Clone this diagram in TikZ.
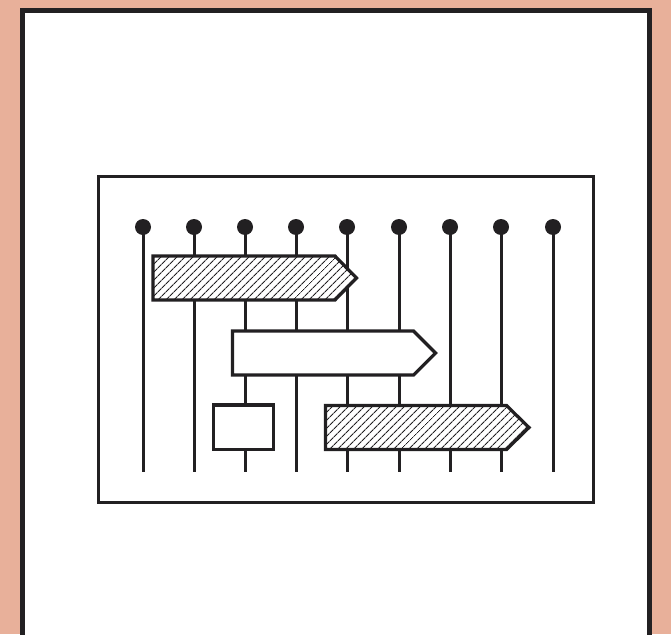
\documentclass[tikz,border=0pt]{standalone}
\usetikzlibrary{patterns.meta}
\definecolor{salmon}{HTML}{E8B09A}
\definecolor{ink}{HTML}{222022}
\tikzset{
  pin/.style={line width=3pt, draw=ink},
  pinhead/.style={circle, fill=ink, inner sep=0pt, minimum size=16pt},
  bar/.style={line width=3.2pt, draw=ink, fill=white, line join=miter},
  hatched/.style={bar, postaction={pattern={Lines[angle=45, distance=5.4pt, line width=1.1pt]}, pattern color=ink}},
}
\begin{document}
\begin{tikzpicture}[x=1pt,y=-1pt]
\fill[salmon] (0,0) rectangle (671,634);
\useasboundingbox (0,0) rectangle (671,634);
\draw[line width=5pt, draw=ink, fill=white] (22.5,10.5) -- (649,10.5) -- (649,650) -- (22.5,650) -- cycle;
\draw[line width=3pt, draw=ink] (98.5,176.5) rectangle (593,502.5);
% pins
\foreach \i/\x in {1/143,2/194,3/245,4/296,5/347,6/399,7/450,8/501,9/553}{
  \node[pinhead] (h\i) at (\x,227) {};
  \coordinate (f\i) at (\x,472);
  \draw[pin] (h\i.center) -- (f\i);
}
% bar 1
\draw[hatched] (153,256) -- (335,256) -- (356.5,278) -- (335,300) -- (153,300) -- cycle;
% bar 2
\draw[bar] (232.5,331) -- (413.5,331) -- (435.5,353) -- (413.5,375) -- (232.5,375) -- cycle;
% small box
\draw[bar] (213.5,405) rectangle (273.5,449.5);
% bar 3
\draw[hatched] (325.5,405.5) -- (506.5,405.5) -- (529,427.5) -- (506.5,449.5) -- (325.5,449.5) -- cycle;
\end{tikzpicture}
\end{document}
